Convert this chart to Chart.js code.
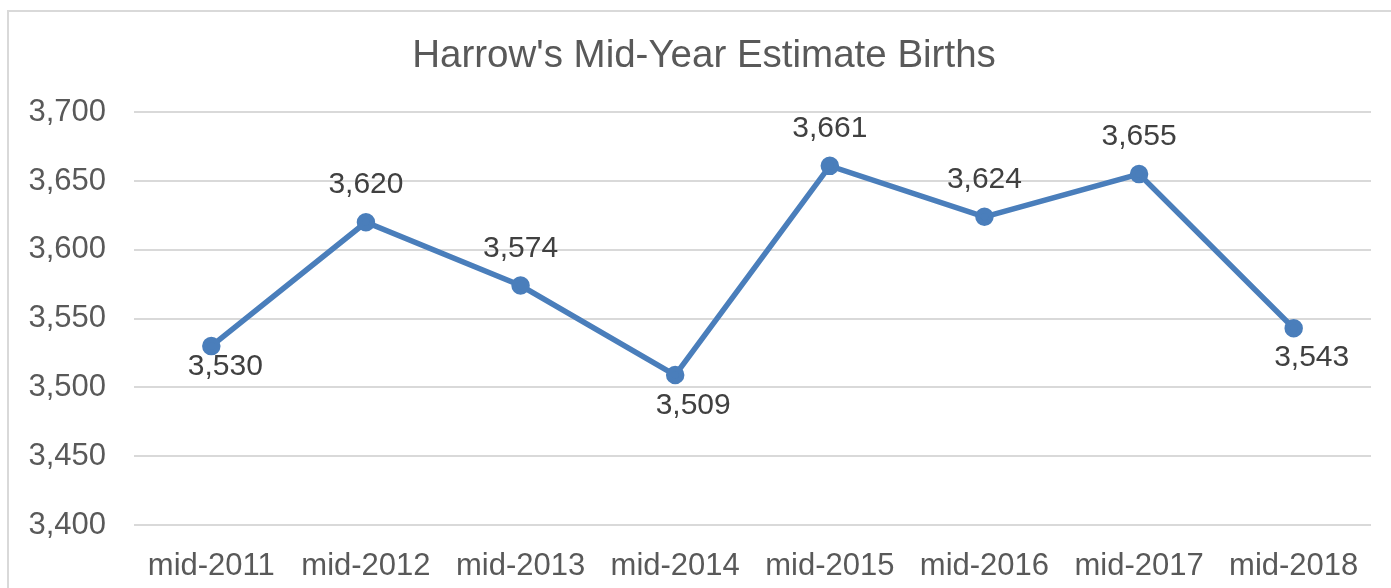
<!DOCTYPE html>
<html>
<head>
<meta charset="utf-8">
<script src="https://cdn.jsdelivr.net/npm/chart.js@4"></script>
<style>
  body { margin: 0; background: #fff; overflow: hidden; }
  #frame {
    position: absolute; left: 7px; top: 10px; width: 1420px; height: 620px;
    border: 2px solid #d9d9d9; box-sizing: border-box;
  }
  #wrap { position: absolute; left: 0; top: 0; width: 1408px; height: 588px; }
</style>
</head>
<body>
<div id="frame"></div>
<div id="wrap"><canvas id="births-chart"></canvas></div>
<script>
const years = ["mid-2011", "mid-2012", "mid-2013", "mid-2014", "mid-2015", "mid-2016", "mid-2017", "mid-2018"];
const births = [3530, 3620, 3574, 3509, 3661, 3624, 3655, 3543];

const FONT = "'Liberation Sans', Arial, sans-serif";

// draws the value labels next to each point (offsets as placed in the original)
const valueLabels = {
    id: "valueLabels",
    afterDatasetsDraw(chart, args, opts) {
        const ctx = chart.ctx;
        const meta = chart.getDatasetMeta(0);
        ctx.save();
        ctx.font = "30px " + FONT;
        ctx.fillStyle = "#404040";
        ctx.textAlign = "center";
        ctx.textBaseline = "middle";
        meta.data.forEach((pt, i) => {
            const [dx, dy] = opts.offsets[i];
            ctx.fillText(births[i].toLocaleString("en-GB"), pt.x + dx, pt.y + dy);
        });
        ctx.restore();
    }
};

const ctx = document.getElementById("births-chart").getContext("2d");
new Chart(ctx, {
    type: "line",
    data: {
        labels: years,
        datasets: [{
            data: births,
            borderColor: "#4a7ebb",
            backgroundColor: "#4a7ebb",
            borderWidth: 5.5,
            pointRadius: 6.5,
            pointHoverRadius: 6.5,
            tension: 0,
            fill: false
        }]
    },
    options: {
        responsive: true,
        maintainAspectRatio: false,
        animation: false,
        layout: { padding: { left: 0, right: 0, top: 0, bottom: 7 } },
        plugins: {
            legend: { display: false },
            tooltip: { enabled: false },
            title: {
                display: true,
                text: "Harrow's Mid-Year Estimate Births",
                color: "#595959",
                font: { family: FONT, size: 38.5, weight: "normal" },
                padding: { top: 33, bottom: 33 }
            },
            valueLabels: {
                offsets: [[14, 21], [0, -38], [0, -37], [18, 31], [0, -37], [0, -37], [0, -37], [18, 30]]
            }
        },
        scales: {
            x: {
                offset: true,
                grid: { display: false, drawTicks: false },
                border: { display: false },
                ticks: {
                    color: "#595959",
                    font: { family: FONT, size: 31 },
                    padding: 23,
                    maxRotation: 0,
                    autoSkip: false
                },
                afterFit(scale) { scale.height = 56; }
            },
            y: {
                min: 3400,
                max: 3700,
                grid: { color: "#d9d9d9", lineWidth: 2, drawTicks: false },
                border: { display: false },
                ticks: {
                    stepSize: 50,
                    color: "#595959",
                    font: { family: FONT, size: 31 },
                    padding: 28,
                    callback: v => v.toLocaleString("en-GB")
                },
                afterFit(scale) { scale.width = 134; }
            },
            // empty right-hand margin so the plot stops short of the frame edge
            yRight: {
                position: "right",
                grid: { display: false, drawTicks: false },
                border: { display: false },
                ticks: { display: false },
                afterFit(scale) { scale.width = 37; }
            }
        }
    },
    plugins: [valueLabels]
});
</script>
</body>
</html>
